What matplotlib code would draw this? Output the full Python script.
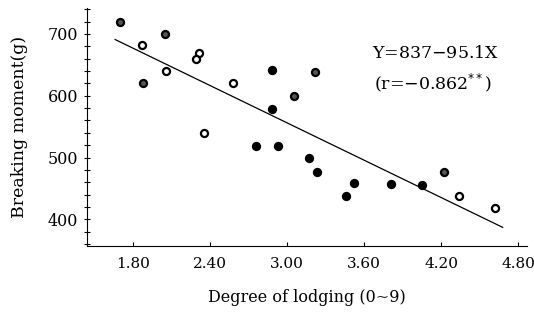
import numpy as np
import matplotlib
matplotlib.use('agg')
import matplotlib.pyplot as plt
from matplotlib.ticker import MultipleLocator, FixedLocator

# degree of lodging vs breaking moment
lodging = [1.70, 1.87, 1.88, 2.05, 2.06, 2.31, 2.29, 2.35, 2.58, 2.76, 2.88, 2.88,
           2.93, 3.05, 3.22, 3.17, 3.23, 3.46, 3.52, 3.81, 4.05, 4.22, 4.34, 4.62]
moment = [720, 682, 621, 700, 640, 670, 659, 539, 620, 519, 641, 579,
          518, 599, 639, 499, 476, 437, 458, 457, 456, 477, 437, 419]
# o = open circle, h = mostly dark, f = solid
group = ['h', 'o', 'h', 'h', 'o', 'o', 'o', 'o', 'o', 'f', 'f', 'f',
         'f', 'h', 'h', 'f', 'f', 'f', 'f', 'f', 'f', 'h', 'o', 'o']

# regression line as drawn in the figure
fit_x = [1.66, 4.68]
fit_y = [691, 387]

xticks = [1.80, 2.40, 3.00, 3.60, 4.20, 4.80]
yticks = [400, 500, 600, 700]

plt.rcParams['font.family'] = ['DejaVu Serif']

fig = plt.figure(figsize=(5.34, 3.21), dpi=100)
ax = fig.add_axes([0.163, 0.234, 0.824, 0.741])

ax.plot(fit_x, fit_y, color='black', lw=0.9)

faces = {'o': 'white', 'h': '#555555', 'f': 'black'}
x = np.array(lodging)
y = np.array(moment)
g = np.array(group)
for key, fc in faces.items():
    m = g == key
    ax.scatter(x[m], y[m], s=26, facecolor=fc, edgecolor='black',
               linewidths=1.6, zorder=3)

ax.text(3.66, 668, 'Y=837$-$95.1X', fontsize=12.5, ha='left', va='center')
ax.text(3.68, 621, '(r=$-$0.862$^{**}$)', fontsize=12.5, ha='left', va='center')

ax.set_xlim(1.441, 4.870)
ax.set_ylim(357, 742)
ax.spines['top'].set_visible(False)
ax.spines['right'].set_visible(False)

ax.xaxis.set_major_locator(FixedLocator(xticks))
ax.set_xticklabels(['%.2f' % v for v in xticks])
ax.yaxis.set_major_locator(FixedLocator(yticks))
ax.yaxis.set_minor_locator(MultipleLocator(20))
ax.tick_params(axis='y', which='both', direction='inout', length=5, width=0.8,
               labelsize=11.5, pad=4)
ax.tick_params(axis='x', which='major', direction='in', length=3, width=0.8,
               labelsize=11, pad=8)

ax.set_ylabel('Breaking moment(g)', fontsize=12.5, labelpad=14)
ax.set_xlabel('Degree of lodging (0~9)', fontsize=11.5, labelpad=13)

fig.savefig('out.png', dpi=100)
